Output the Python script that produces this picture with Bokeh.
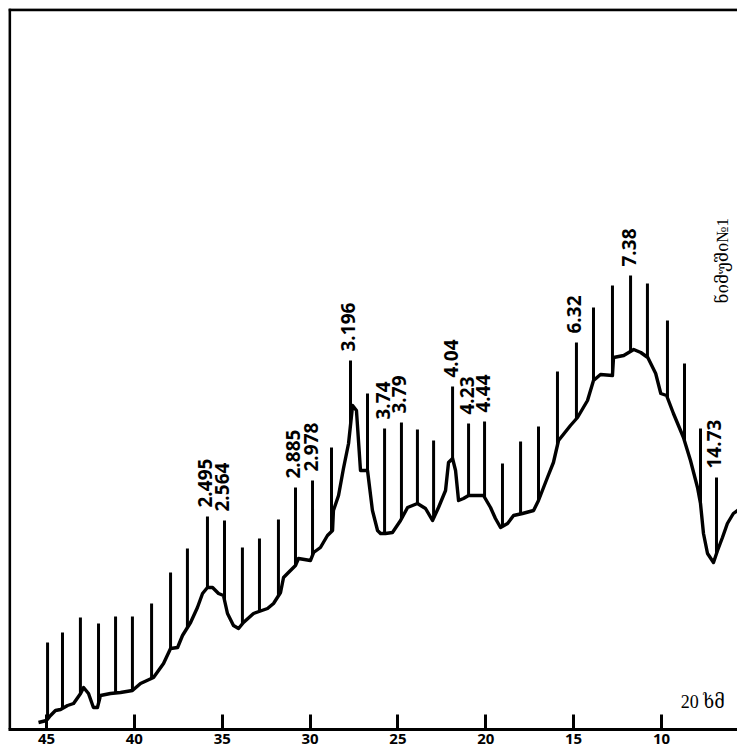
import numpy as np
from bokeh.plotting import figure
from bokeh.models import Range1d, ColumnDataSource, Span, FixedTicker, Label
from bokeh.embed import file_html
from bokeh.resources import INLINE
from bokeh.core.properties import value

# diffraction curve (2theta, intensity in arbitrary units)
curve_2theta = [45.455, 45.0, 44.77, 44.49, 44.20, 43.80, 43.46, 43.06, 42.89, 42.61,
                42.33, 42.10, 41.93, 41.36, 40.79, 40.11, 39.65, 38.91, 38.34, 37.94,
                37.54, 37.26, 36.80, 36.41, 36.12, 35.84, 35.55, 35.21, 34.93, 34.70,
                34.36, 34.07, 33.79, 33.22, 32.42, 32.08, 31.68, 31.51, 31.23, 30.83,
                30.66, 29.98, 29.80, 29.41, 29.01, 28.72, 28.67, 28.38, 28.10, 27.81,
                27.58, 27.36, 27.13, 26.73, 26.45, 26.16, 25.99, 25.71, 25.31, 24.85,
                24.45, 23.89, 23.43, 23.03, 22.69, 22.29, 22.12, 21.89, 21.72, 21.55,
                21.27, 20.98, 20.13, 19.73, 19.45, 19.16, 18.76, 18.42, 17.91, 17.28,
                17.00, 16.49, 16.15, 15.86, 15.18, 14.78, 14.21, 13.87, 13.47, 12.79,
                12.73, 12.15, 11.58, 11.18, 10.78, 10.33, 10.04, 9.71, 9.32, 8.75,
                8.35, 7.95, 7.78, 7.61, 7.38, 7.04, 6.81, 6.53, 6.25, 5.91, 5.60]
curve_intensity = [7, 9, 14, 19, 20, 24, 26, 36, 42, 36,
                   22, 22, 34, 36, 37, 39, 46, 52, 66, 81,
                   82, 94, 107, 122, 136, 142, 142, 136, 134, 116,
                   104, 101, 107, 116, 121, 126, 137, 152, 157, 164,
                   171, 169, 177, 182, 194, 199, 219, 234, 261, 286,
                   324, 319, 259, 259, 219, 199, 196, 196, 197, 209,
                   222, 226, 221, 209, 222, 239, 267, 271, 259, 229,
                   231, 234, 234, 222, 211, 202, 206, 214, 216, 219,
                   229, 252, 267, 289, 304, 312, 329, 349, 355, 354,
                   372, 374, 380, 377, 372, 356, 336, 334, 316, 292,
                   269, 242, 226, 196, 176, 167, 179, 192, 206, 216, 220]

# reflection lines (2theta, top intensity)
peak_2theta = [44.94, 44.09, 43.07, 42.04, 41.07, 40.11, 39.02, 37.94, 36.98, 35.84,
               34.87, 33.85, 32.88, 31.80, 30.83, 29.86, 28.78, 27.70, 26.73, 25.76,
               24.80, 23.89, 22.97, 21.89, 20.98, 20.07, 19.05, 18.02, 17.00, 15.92,
               14.84, 13.87, 12.79, 11.76, 10.80, 9.66, 8.69, 7.78, 6.87]
peak_top = [87, 97, 112, 106, 113, 113, 126, 157, 181, 213,
            209, 182, 191, 210, 242, 249, 282, 369, 336, 301,
            307, 300, 289, 343, 306, 308, 266, 288, 303, 358,
            387, 422, 444, 454, 446, 409, 366, 301, 252]

# d-spacing labels
label_2theta = [35.84, 34.87, 30.83, 29.86, 27.70, 25.76, 24.80, 21.89, 20.98, 20.07, 14.84, 11.76, 6.87]
label_text = ["2.495", "2.564", "2.885", "2.978", "3.196", "3.74", "3.79", "4.04", "4.23", "4.44", "6.32", "7.38", "14.73"]

tick_values = [45, 40, 35, 30, 25, 20, 15, 10]

p = figure(frame_width=729, frame_height=721,
           x_range=Range1d(47.163, 5.674), y_range=Range1d(0, 721),
           y_axis_location=None, output_backend="svg", toolbar_location=None,
           min_border_left=8, min_border_right=0, min_border_top=8, min_border_bottom=0)
p.grid.visible = False
p.outline_line_color = None
p.background_fill_color = "white"

ax = p.xaxis[0]
ax.ticker = FixedTicker(ticks=tick_values)
ax.axis_line_width = 3
ax.axis_line_color = "black"
ax.major_tick_in = 15
ax.major_tick_out = 0
ax.major_tick_line_width = 3
ax.minor_tick_line_color = None
ax.major_label_text_font = "Open Sans"
ax.major_label_text_font_style = "bold"
ax.major_label_text_font_size = "15px"
ax.major_label_text_color = "black"
ax.major_label_standoff = 4

# frame borders (left & top)
p.add_layout(Span(location=47.10, dimension="height", line_color="black", line_width=3))
p.add_layout(Span(location=719.8, dimension="width", line_color="black", line_width=3))

# vertical reflection lines from curve to top
bases = np.interp(peak_2theta, curve_2theta[::-1], curve_intensity[::-1])
p.segment(x0=peak_2theta, y0=bases, x1=peak_2theta, y1=peak_top, line_color="black", line_width=3)

# curve
p.line(curve_2theta, curve_intensity, line_color="black", line_width=3.4, line_join="round")

# labels
lab_y = [peak_top[peak_2theta.index(v)] for v in label_2theta]
src = ColumnDataSource(dict(x=label_2theta, y=lab_y, t=label_text))
p.text(x="x", y="y", text="t", source=src, angle=np.pi / 2, text_align="left",
       text_baseline="alphabetic", x_offset=-2, y_offset=-9,
       text_font=value("Open Sans"), text_font_style="bold", text_font_size="19px", text_color="black")

p.add_layout(Label(x=6.53, y=426, text="ნიმუში№1", angle=np.pi / 2, text_align="left",
                   text_baseline="middle", text_font="Liberation Serif, DejaVu Serif",
                   text_font_size="17px", text_color="black"))
p.add_layout(Label(x=8.90, y=28, text="20 ხმ", text_align="left", text_baseline="alphabetic",
                   text_font="Liberation Serif, DejaVu Serif", text_font_size="18px", text_color="black"))

open("out.html", "w").write(file_html(p, INLINE))
